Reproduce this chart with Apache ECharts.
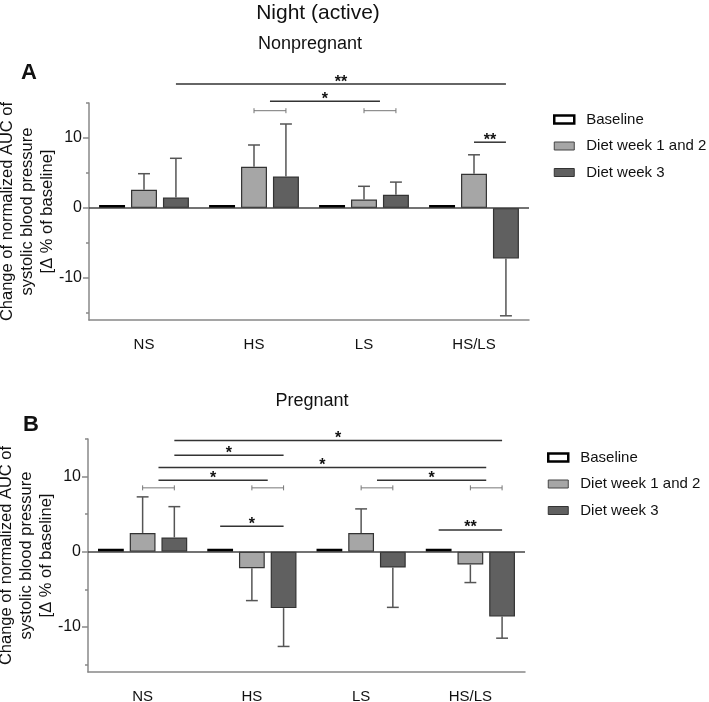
<!DOCTYPE html>
<html>
<head>
<meta charset="utf-8">
<script src="https://cdn.jsdelivr.net/npm/echarts@6/dist/echarts.min.js"></script>
<style>
html,body{margin:0;padding:0;background:#fff;}
#chart{width:709px;height:702px;}
</style>
</head>
<body>
<div id="chart"></div>
<script>
/* categories */
var categories = ['NS', 'HS', 'LS', 'HS/LS'];
var seriesNames = ['Baseline', 'Diet week 1 and 2', 'Diet week 3'];

/* A - Nonpregnant */
var npBaseline = [0, 0, 0, 0];
var npWeek12 = [2.6, 5.9, 1.2, 4.9];
var npWeek12Err = [4.9, 9.0, 3.1, 7.6];
var npWeek3 = [1.5, 4.5, 1.9, -7.2];
var npWeek3Err = [7.1, 12.0, 3.7, -15.4];

/* B - Pregnant */
var pgBaseline = [0, 0, 0, 0];
var pgWeek12 = [2.5, -2.2, 2.5, -1.7];
var pgWeek12Err = [7.3, -6.5, 5.7, -4.1];
var pgWeek3 = [1.9, -7.5, -2.1, -8.6];
var pgWeek3Err = [6.0, -12.6, -7.4, -11.5];

/* significance lines: [fromCat, fromSlot, toCat, toSlot, y, label]  slot -1 baseline, 0 week1+2, 1 week3, 0.5 mean */
var npSig = [[0, 1, 3, 1, 17.7, '**'], [1, 0.5, 2, 0.5, 15.25, '*'], [3, 0, 3, 1, 9.4, '**']];
var npBrackets = [[1, 13.9], [2, 13.9]];
var pgSig = [
  [0, 1, 3, 1, 14.8, '*'], [0, 1, 1, 1, 12.85, '*'], [0, 0.5, 3, 0.5, 11.2, '*'],
  [0, 0.5, 1, 0.5, 9.5, '*'], [2, 0.5, 3, 0.5, 9.5, '*'],
  [1, -1, 1, 1, 3.4, '*'], [3, -1, 3, 1, 2.9, '**']
];
var pgBrackets = [[0, 8.5], [1, 8.5], [2, 8.5], [3, 8.5]];

var yMajor = [-10, 0, 10];
var yMinor = [-15, -5, 5, 15];

var FONT = "'Liberation Sans', Arial, sans-serif";
var BAR_FRAC = 0.236, GAP_FRAC = 0.23;
var colBase = '#ffffff', colW12 = '#a6a6a6', colW3 = '#606060';

function slotX(api, cat, slot, y) {
  var p = api.coord([cat, y]);
  var bw = api.size([1, 0])[0] * BAR_FRAC;
  return p[0] + slot * bw * (1 + GAP_FRAC);
}

/* error bar custom series */
function errSeries(gi, slot, vals, errs) {
  return {
    type: 'custom', xAxisIndex: gi, yAxisIndex: gi * 2, z: 5, clip: false, silent: true,
    encode: {x: 0, y: [1, 2]},
    data: vals.map(function (v, i) { return [i, v, errs[i]]; }),
    renderItem: function (params, api) {
      var i = api.value(0);
      var y0 = api.coord([i, api.value(1)])[1];
      var y1 = api.coord([i, api.value(2)])[1];
      var x = slotX(api, i, slot, 0);
      var cap = api.size([1, 0])[0] * BAR_FRAC * 0.23;
      var st = {stroke: '#555', lineWidth: 1.5};
      return {type: 'group', children: [
        {type: 'line', shape: {x1: x, y1: y0, x2: x, y2: y1}, style: st},
        {type: 'line', shape: {x1: x - cap, y1: y1, x2: x + cap, y2: y1}, style: st}
      ]};
    }
  };
}

/* significance lines with stars */
function sigSeries(gi, list) {
  return {
    type: 'custom', xAxisIndex: gi, yAxisIndex: gi * 2, z: 6, clip: false, silent: true,
    data: list.map(function (a) { return [a[0], a[4]]; }),
    renderItem: function (params, api) {
      var a = list[params.dataIndex];
      var y = api.coord([a[0], a[4]])[1];
      var x1 = slotX(api, a[0], a[1], a[4]);
      var x2 = slotX(api, a[2], a[3], a[4]);
      return {type: 'group', children: [
        {type: 'line', shape: {x1: x1, y1: y, x2: x2, y2: y}, style: {stroke: '#333', lineWidth: 1.5}},
        {type: 'text', x: (x1 + x2) / 2, y: y - 2,
          style: {text: a[5], fill: '#111', font: 'bold 16px ' + FONT, align: 'center', verticalAlign: 'middle'}}
      ]};
    }
  };
}

/* small brackets between week 1+2 and week 3 */
function bracketSeries(gi, list) {
  return {
    type: 'custom', xAxisIndex: gi, yAxisIndex: gi * 2, z: 6, clip: false, silent: true,
    data: list.map(function (a) { return [a[0], a[1]]; }),
    renderItem: function (params, api) {
      var a = list[params.dataIndex];
      var y = api.coord([a[0], a[1]])[1];
      var x1 = slotX(api, a[0], 0, a[1]);
      var x2 = slotX(api, a[0], 1, a[1]);
      var st = {stroke: '#777', lineWidth: 1};
      return {type: 'group', children: [
        {type: 'line', shape: {x1: x1, y1: y, x2: x2, y2: y}, style: st},
        {type: 'line', shape: {x1: x1, y1: y - 2.5, x2: x1, y2: y + 2.5}, style: st},
        {type: 'line', shape: {x1: x2, y1: y - 2.5, x2: x2, y2: y + 2.5}, style: st}
      ]};
    }
  };
}

function barSeries(gi, name, data, color, isBase) {
  var s = {
    name: name, type: 'bar', xAxisIndex: gi, yAxisIndex: gi * 2, data: data,
    barWidth: (BAR_FRAC * 100) + '%', barGap: (GAP_FRAC * 100) + '%',
    itemStyle: {color: color, borderColor: '#333', borderWidth: 1.2},
    emphasis: {disabled: true}, z: 3
  };
  if (isBase) {
    /* a zero bar only shows as a thick black stroke */
    s.itemStyle = {color: '#000', borderWidth: 0};
    s.barMinHeight = 3;
    s.z = 4;
  }
  return s;
}

function zeroLine(s) {
  s.markLine = {silent: true, symbol: 'none', label: {show: false},
    lineStyle: {color: '#444', width: 1.5, type: 'solid'}, data: [{yAxis: 0}]};
  return s;
}

function xAxisOf(gi) {
  return {
    type: 'category', gridIndex: gi, data: categories,
    axisLine: {onZero: false, lineStyle: {color: '#888', width: 1.5}},
    axisTick: {alignWithLabel: true, length: 5, lineStyle: {color: '#888', width: 1.5}},
    axisLabel: {fontSize: 15, color: '#111', fontFamily: FONT, margin: 17}
  };
}

var yName = 'Change of normalized AUC of\nsystolic blood pressure\n[\u0394 % of baseline]';
function yAxesOf(gi) {
  return [{
    type: 'value', gridIndex: gi, min: -16, max: 15,
    name: yName, nameLocation: 'middle', nameRotate: 90, nameGap: 32, nameMoveOverlap: false,
    nameTextStyle: {fontSize: 16.5, lineHeight: 20, color: '#111', fontFamily: FONT},
    axisLine: {show: true, lineStyle: {color: '#888', width: 1.5}},
    axisTick: {show: true, length: 6, customValues: yMajor, lineStyle: {color: '#888', width: 1.5}},
    axisLabel: {customValues: yMajor, fontSize: 16, color: '#111', fontFamily: FONT, margin: 7},
    splitLine: {show: false}
  }, {
    type: 'value', gridIndex: gi, min: -16, max: 15, position: 'left',
    axisLine: {show: false},
    axisTick: {show: true, length: 3, customValues: yMinor, lineStyle: {color: '#888', width: 1.5}},
    axisLabel: {show: false},
    splitLine: {show: false}
  }];
}

function legendOf(left, top) {
  return {
    orient: 'vertical', left: left, top: top, itemWidth: 20, itemHeight: 8, itemGap: 9.5,
    icon: 'rect', selectedMode: false,
    textStyle: {fontSize: 15, lineHeight: 17, color: '#111', fontFamily: FONT, padding: [0, 0, 0, 7]},
    data: [
      {name: seriesNames[0], itemStyle: {color: colBase, borderColor: '#000', borderWidth: 2.5}},
      {name: seriesNames[1], itemStyle: {color: colW12, borderColor: '#444', borderWidth: 1}},
      {name: seriesNames[2], itemStyle: {color: colW3, borderColor: '#333', borderWidth: 1}}
    ]
  };
}

function txt(text, x, y, size, weight) {
  return {type: 'text', x: x, y: y, silent: true,
    style: {text: text, fill: '#111', font: (weight || 'normal') + ' ' + size + 'px ' + FONT,
      align: 'center', verticalAlign: 'middle'}};
}

var chart = echarts.init(document.getElementById('chart'), null, {renderer: 'canvas'});
var option = {
  animation: false,
  backgroundColor: '#fff',
  textStyle: {fontFamily: FONT},
  grid: [
    {left: 89, top: 103, width: 440, height: 217, containLabel: false, outerBoundsMode: 'none'},
    {left: 88, top: 439, width: 437, height: 233, containLabel: false, outerBoundsMode: 'none'}
  ],
  xAxis: [xAxisOf(0), xAxisOf(1)],
  yAxis: yAxesOf(0).concat(yAxesOf(1)),
  legend: [legendOf(548, 106), legendOf(542, 444)],
  graphic: [
    txt('Night (active)', 318, 13, 21),
    txt('Nonpregnant', 310, 44, 18),
    txt('A', 29, 73, 22, 'bold'),
    txt('Pregnant', 312, 401, 18),
    txt('B', 31, 425, 22, 'bold')
  ],
  series: [
    barSeries(0, seriesNames[0], npBaseline, colBase, true),
    zeroLine(barSeries(0, seriesNames[1], npWeek12, colW12)),
    barSeries(0, seriesNames[2], npWeek3, colW3),
    errSeries(0, 0, npWeek12, npWeek12Err),
    errSeries(0, 1, npWeek3, npWeek3Err),
    sigSeries(0, npSig),
    bracketSeries(0, npBrackets),
    barSeries(1, seriesNames[0], pgBaseline, colBase, true),
    zeroLine(barSeries(1, seriesNames[1], pgWeek12, colW12)),
    barSeries(1, seriesNames[2], pgWeek3, colW3),
    errSeries(1, 0, pgWeek12, pgWeek12Err),
    errSeries(1, 1, pgWeek3, pgWeek3Err),
    sigSeries(1, pgSig),
    bracketSeries(1, pgBrackets)
  ]
};
chart.setOption(option);
</script>
</body>
</html>
